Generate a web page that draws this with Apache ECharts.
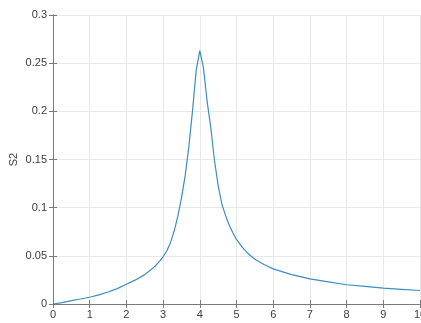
<!DOCTYPE html>
<html><head><meta charset="utf-8">
<script src="https://cdn.jsdelivr.net/npm/echarts@6/dist/echarts.min.js"></script>
<style>html,body{margin:0;padding:0;background:#fff}#c{width:421px;height:323px}</style>
</head><body><div id="c"></div>
<script>
var xValues = [0,0.25,0.5,0.75,1,1.25,1.5,1.75,2,2.25,2.5,2.6,2.7,2.8,2.9,3.0,3.1,3.2,3.3,3.4,3.5,3.6,3.7,3.8,3.9,4.0,4.1,4.2,4.3,4.4,4.5,4.6,4.7,4.8,4.9,5.0,5.1,5.2,5.3,5.4,5.5,5.75,6,6.5,7,7.5,8,8.5,9,9.5,10];
var s2Values = [0,0.0015,0.0035,0.0052,0.007,0.0095,0.0125,0.016,0.0205,0.025,0.0305,0.0335,0.0365,0.040,0.0442,0.049,0.055,0.0635,0.0755,0.091,0.11,0.133,0.163,0.2,0.242,0.263,0.245,0.21,0.183,0.149,0.123,0.104,0.092,0.082,0.074,0.067,0.062,0.057,0.053,0.0495,0.0465,0.041,0.0365,0.0305,0.026,0.023,0.020,0.0183,0.0165,0.0152,0.014];
var xTicks = [0,1,2,3,4,5,6,7,8,9,10];
var yTicks = [0,0.05,0.1,0.15,0.2,0.25,0.3];
var yName = 'S2';

var data = xValues.map(function(x,i){return [x,s2Values[i]];});
var font = 'Liberation Sans, Arial, sans-serif';
function fmtY(v){return String(+v.toFixed(2));}
var base = {
  axisLine:{show:true,lineStyle:{color:'#7a7a7a',width:1}},
  axisTick:{show:true,inside:true,length:4,lineStyle:{color:'#7a7a7a'}},
};
var chart = echarts.init(document.getElementById('c'),null,{renderer:'canvas'});
chart.setOption({
  animation:false,
  backgroundColor:'#fff',
  grid:{left:53,right:1,top:15,bottom:19,containLabel:false,outerBoundsMode:'none'},
  xAxis:[
    Object.assign({type:'value',min:xTicks[0],max:xTicks[xTicks.length-1],interval:1,position:'bottom',
      axisLabel:{color:'#3c3c3c',fontSize:11,fontFamily:font,margin:5,hideOverlap:false},
      splitLine:{show:true,lineStyle:{color:'#e8e8e8'}}},base),
    Object.assign({type:'value',min:xTicks[0],max:xTicks[xTicks.length-1],interval:1,position:'top',
      axisLabel:{show:false},splitLine:{show:false}},base)
  ],
  yAxis:[
    Object.assign({type:'value',min:yTicks[0],max:yTicks[yTicks.length-1],interval:0.05,position:'left',
      name:yName,nameLocation:'middle',nameGap:34,nameRotate:90,nameMoveOverlap:false,
      nameTextStyle:{color:'#3c3c3c',fontSize:11,fontFamily:font},
      axisLabel:{color:'#3c3c3c',fontSize:11,fontFamily:font,margin:6,formatter:fmtY},
      splitLine:{show:true,lineStyle:{color:'#e8e8e8'}}},base),
    Object.assign({type:'value',min:yTicks[0],max:yTicks[yTicks.length-1],interval:0.05,position:'right',
      axisLabel:{show:false},splitLine:{show:false}},base)
  ],
  series:[{type:'line',data:data,showSymbol:false,smooth:false,
    lineStyle:{color:'#3b8dc2',width:1.2},xAxisIndex:0,yAxisIndex:0}]
});
</script></body></html>
